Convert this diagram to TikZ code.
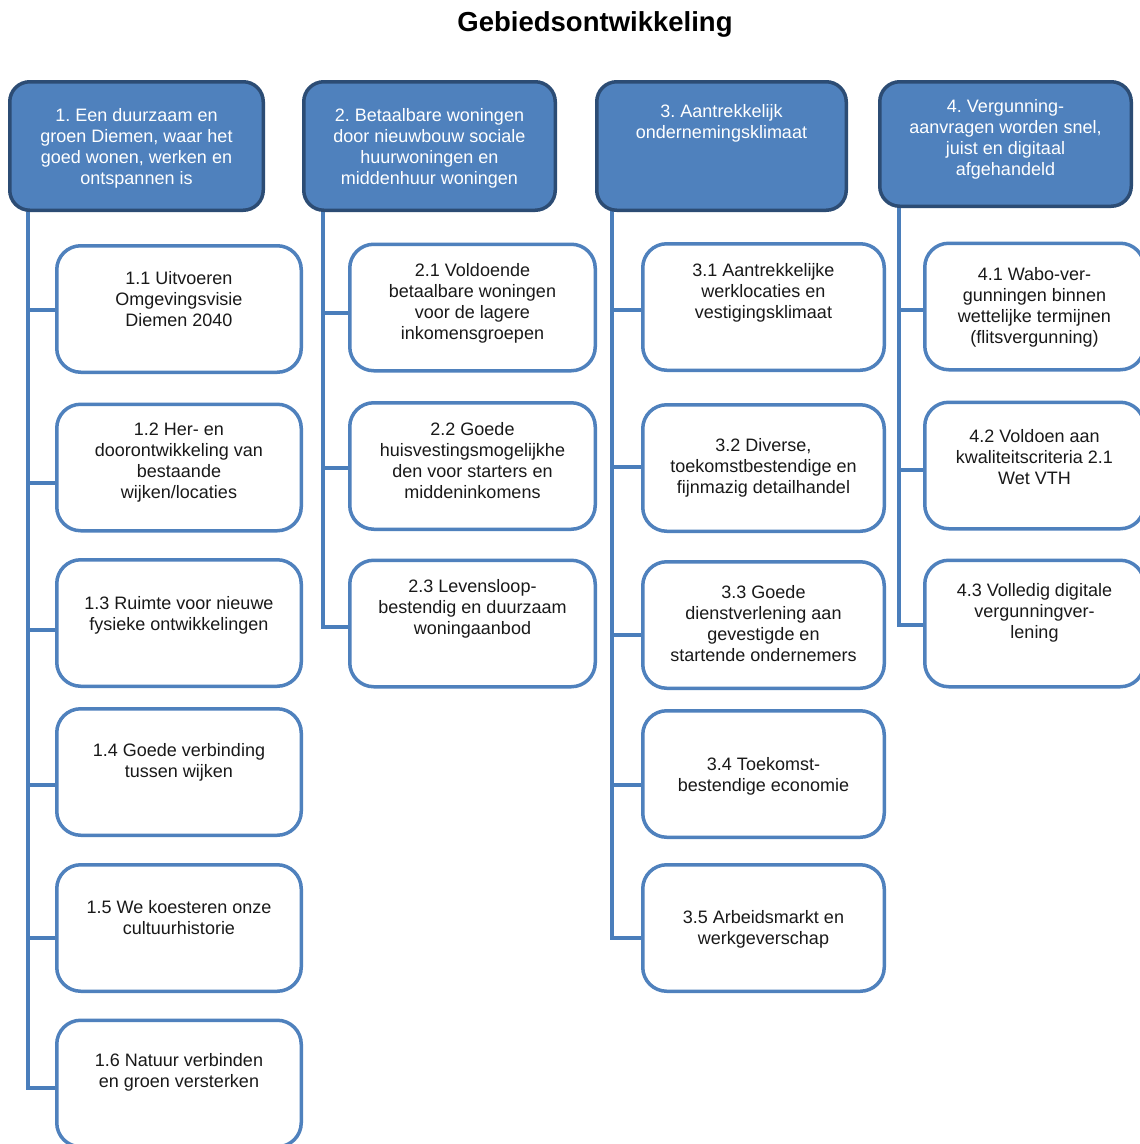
\documentclass[tikz,border=0pt]{standalone}
\usepackage{fontspec}
\setmainfont{Liberation Sans}
\frenchspacing
\usetikzlibrary{positioning, backgrounds}
\definecolor{headFill}{HTML}{4F81BD}
\definecolor{headLine}{HTML}{2C4C74}
\definecolor{boxLine}{HTML}{4F81BD}
\definecolor{linkCol}{HTML}{4A7EBB}

\begin{document}
\begin{tikzpicture}[x=1pt, y=-1pt,
    every node/.style={font=\fontsize{18}{21}\selectfont, inner sep=0pt, outer sep=0pt},
    headbox/.style={draw=headLine, fill=headFill, line width=3.5pt, rounded corners=20pt,
      minimum width=251.5pt, minimum height=128.5pt},
    subbox/.style={draw=boxLine, fill=white, line width=3.5pt, rounded corners=24pt,
      minimum height=126.5pt},
    colA/.style={subbox, minimum width=244.5pt},
    colB/.style={subbox, minimum width=245.5pt},
    colC/.style={subbox, minimum width=241.5pt},
    colD/.style={subbox, minimum width=219.5pt},
    headtext/.style={text=white, align=center},
    subtext/.style={text=black!90, align=center},
    link/.style={draw=linkCol, line width=3.5pt}]
    \useasboundingbox (0,0) rectangle (1140,1144);

    \node[font=\bfseries\fontsize{27.5}{33}\selectfont, anchor=base] (title) at (595,31) {Gebiedsontwikkeling};

    % main goals
    \node[headbox, minimum width=253.5pt] (h1) at (136.5,146) {};
    \node[headbox] (h2) at (429.5,146) {};
    \node[headbox, minimum width=249.5pt] (h3) at (721.5,146) {};
    \node[headbox, minimum height=124.5pt] (h4) at (1005.5,144) {};
    \node[headtext] (h1-t) at (136.5,148) {1. Een duurzaam en\\groen Diemen, waar het\\goed wonen, werken en\\ontspannen is};
    \node[headtext] (h2-t) at (429.5,148) {2. Betaalbare woningen\\door nieuwbouw sociale\\huurwoningen en\\middenhuur woningen};
    \node[headtext] (h3-t) at (721.5,123) {3. Aantrekkelijk\\ondernemingsklimaat};
    \node[headtext] (h4-t) at (1005.5,139) {4. Vergunning-\\aanvragen worden snel,\\juist en digitaal\\afgehandeld};

    % sub goals
    \node[colA] (c11) at (179,309) {};
    \node[colA] (c12) at (179,467.5) {};
    \node[colA] (c13) at (179,623) {};
    \node[colA] (c14) at (179,772) {};
    \node[colA] (c15) at (179,928) {};
    \node[colA] (c16) at (179,1083.5) {};
    \node[colB] (c21) at (472.5,307.5) {};
    \node[colB] (c22) at (472.5,466) {};
    \node[colB] (c23) at (472.5,623.5) {};
    \node[colC] (c31) at (763.5,307) {};
    \node[colC] (c32) at (763.5,468) {};
    \node[colC] (c33) at (763.5,625) {};
    \node[colC] (c34) at (763.5,774) {};
    \node[colC] (c35) at (763.5,928) {};
    \node[colD] (c41) at (1034.5,306.5) {};
    \node[colD] (c42) at (1034.5,465.5) {};
    \node[colD] (c43) at (1034.5,623.5) {};

    \node[subtext] (c11-t) at (179,299) {1.1 Uitvoeren\\Omgevingsvisie\\Diemen 2040};
    \node[subtext] (c12-t) at (179,463) {1.2 Her- en\\doorontwikkeling van\\bestaande\\wijken/locaties};
    \node[subtext] (c13-t) at (179,615) {1.3 Ruimte voor nieuwe\\fysieke ontwikkelingen};
    \node[subtext] (c14-t) at (179,762) {1.4 Goede verbinding\\tussen wijken};
    \node[subtext] (c15-t) at (179,918) {1.5 We koesteren onze\\cultuurhistorie};
    \node[subtext] (c16-t) at (179,1072) {1.6 Natuur verbinden\\en groen versterken};
    \node[subtext] (c21-t) at (472.5,303) {2.1 Voldoende\\betaalbare woningen\\voor de lagere\\inkomensgroepen};
    \node[subtext] (c22-t) at (472.5,461) {2.2 Goede\\huisvestingsmogelijkhe\\den voor starters en\\middeninkomens};
    \node[subtext] (c23-t) at (472.5,609) {2.3 Levensloop-\\bestendig en duurzaam\\woningaanbod};
    \node[subtext] (c31-t) at (763.5,293) {3.1 Aantrekkelijke\\werklocaties en\\vestigingsklimaat};
    \node[subtext] (c32-t) at (763.5,468) {3.2 Diverse,\\toekomstbestendige en\\fijnmazig detailhandel};
    \node[subtext] (c33-t) at (763.5,624) {3.3 Goede\\dienstverlening aan\\gevestigde en\\startende ondernemers};
    \node[subtext] (c34-t) at (763.5,776) {3.4 Toekomst-\\bestendige economie};
    \node[subtext] (c35-t) at (763.5,929) {3.5 Arbeidsmarkt en\\werkgeverschap};
    \node[subtext] (c41-t) at (1034.5,307) {4.1 Wabo-ver-\\gunningen binnen\\wettelijke termijnen\\(flitsvergunning)};
    \node[subtext] (c42-t) at (1034.5,457) {4.2 Voldoen aan\\kwaliteitscriteria 2.1\\Wet VTH};
    \node[subtext] (c43-t) at (1034.5,613) {4.3 Volledig digitale\\vergunningver-\\lening};

    % spines and branches
    \coordinate (s1) at (h1.south -| 28,0);
    \coordinate (s2) at (h2.south -| 323,0);
    \coordinate (s3) at (h3.south -| 612,0);
    \coordinate (s4) at (h4.south -| 899,0);
    \begin{scope}[on background layer]
      \fill[white] (0,0) rectangle (1140,1144);
      \foreach \nm/\col/\cy in {11/1/310, 12/1/483, 13/1/630, 14/1/785, 15/1/938, 16/1/1088,
                                21/2/313, 22/2/468, 23/2/627,
                                31/3/310, 32/3/467, 33/3/635, 34/3/785, 35/3/938,
                                41/4/310, 42/4/470, 43/4/625}
        \draw[link] (s\col) |- (c\nm.west |- 0,\cy);
    \end{scope}
  \end{tikzpicture}
\end{document}
